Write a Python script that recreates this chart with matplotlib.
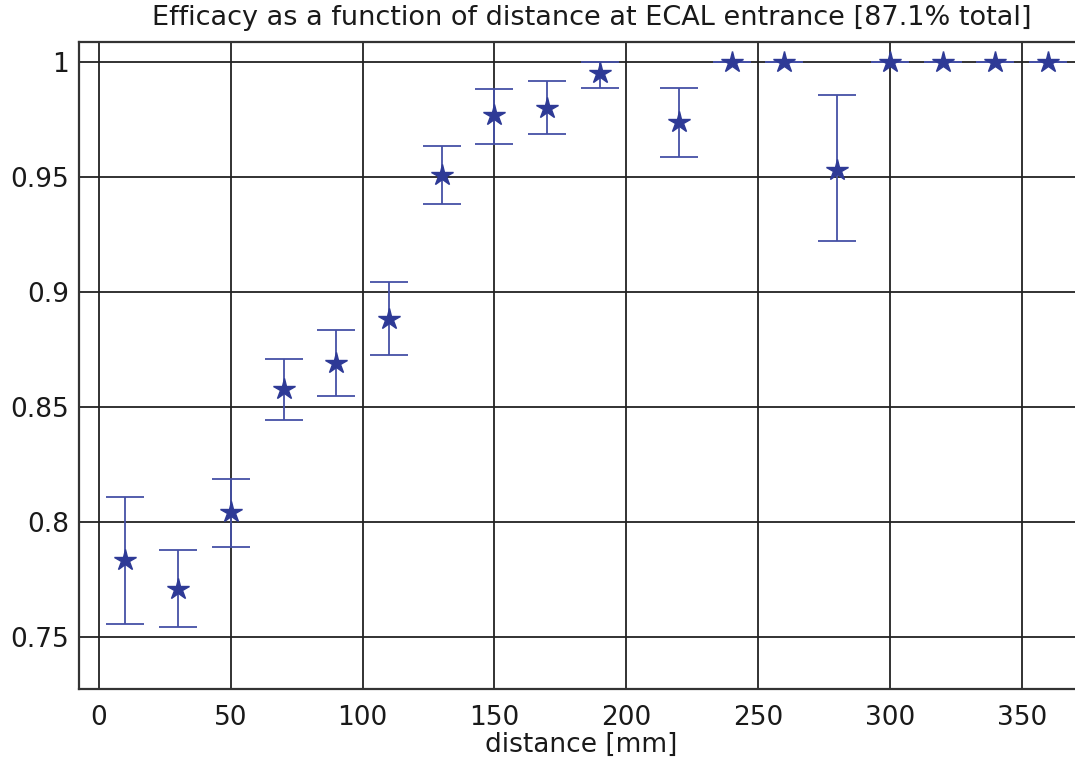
import matplotlib
matplotlib.use("Agg")
import matplotlib.pyplot as plt
import numpy as np

plt.rcParams['font.family'] = ['DejaVu Sans']

distance = [10, 30, 50, 70, 90, 110, 130, 150, 170, 190, 220, 240, 260, 280, 300, 320, 340, 360]
efficacy = [0.7834, 0.7708, 0.8044, 0.8578, 0.8691, 0.8882, 0.9508, 0.9769, 0.9800, 0.9951,
            0.9740, 1.0, 1.0, 0.9530, 1.0, 1.0, 1.0, 1.0]
err_upper = [0.8108, 0.7877, 0.8186, 0.8708, 0.8834, 0.9043, 0.9635, 0.9883, 0.9917, 1.0,
             0.9888, 1.0, 1.0, 0.9856, 1.0, 1.0, 1.0, 1.0]
err_lower = [0.7555, 0.7544, 0.7890, 0.8443, 0.8547, 0.8726, 0.9382, 0.9643, 0.9687, 0.9888,
             0.9588, 1.0, 1.0, 0.9221, 1.0, 1.0, 1.0, 1.0]
xticks = [0, 50, 100, 150, 200, 250, 300, 350]
yticks = [0.75, 0.8, 0.85, 0.9, 0.95, 1.0]
yticklabels = ['0.75', '0.8', '0.85', '0.9', '0.95', '1']

W, H = 1075, 761
fig = plt.figure(figsize=(W / 100, H / 100), dpi=100)
left, right, top, bottom = 79, 1105, 42, 688.7
ax = fig.add_axes([left / W, (H - bottom) / H, (right - left) / W, (bottom - top) / H])

eff = np.array(efficacy)
yerr = np.vstack([eff - np.array(err_lower), np.array(err_upper) - eff])
ax.errorbar(distance, efficacy, yerr=yerr, fmt='none', ecolor='#4550a6',
            elinewidth=1.3, capsize=13.7, capthick=1.3, zorder=3)
ax.plot(distance, efficacy, linestyle='none', marker='*', markersize=16,
        color='#2e3a96', markeredgecolor='#2e3a96', zorder=4)

ax.set_xlim(-7.6, 381.6)
ax.set_ylim(0.7274, 1.0087)
ax.set_xticks(xticks)
ax.set_yticks(yticks)
ax.set_yticklabels(yticklabels)
ax.grid(True, color='#222222', linewidth=1.3, zorder=1)
ax.set_axisbelow(True)
ax.tick_params(length=0, labelsize=19, colors='#1a1a1a')
ax.tick_params(axis='y', pad=7)
ax.tick_params(axis='x', pad=12)
for s in ['left', 'bottom', 'top']:
    ax.spines[s].set_color('#333333')
    ax.spines[s].set_linewidth(1.6)
ax.spines['right'].set_visible(False)

fig.text(592 / W, 1 - 18 / H, 'Efficacy as a function of distance at ECAL entrance [87.1% total]',
         ha='center', va='center', fontsize=19.5, color='#1a1a1a')
fig.text(581 / W, 1 - 745 / H, 'distance [mm]', ha='center', va='center',
         fontsize=19, color='#1a1a1a')

fig.savefig('out.png', dpi=100)
